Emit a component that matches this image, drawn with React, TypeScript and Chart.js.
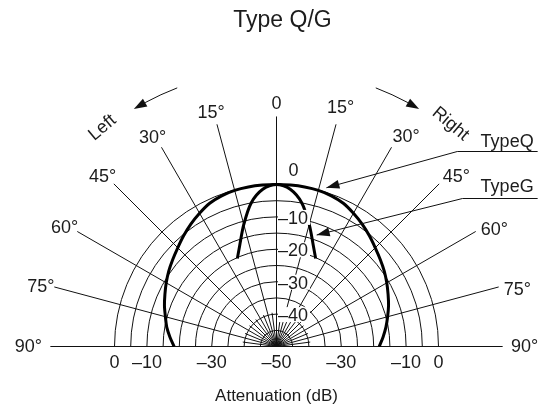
import React, { useEffect, useRef } from "react";
import { Chart, registerables } from "chart.js";

Chart.register(...registerables);

// ---------- data ----------
const TITLE = "Type Q/G";
const AXIS_TITLE = "Attenuation (dB)";
const DB_MIN = -50;
const RING_DB = [0, -5, -10, -15, -20, -25, -30, -35, -40, -45];
const MAIN_SPOKES = [-90, -75, -60, -45, -30, -15, 0, 15, 30, 45, 60, 75, 90];
const MAIN_LABELS = ["90°", "75°", "60°", "45°", "30°", "15°", "0", "15°", "30°", "45°", "60°", "75°", "90°"];
const FINE_SPOKES = [-82.5, -67.5, -52.5, -37.5, -22.5, -7.5, 7.5, 22.5, 37.5, 52.5, 67.5, 82.5];
const RADIAL_TICKS = [0, -10, -20, -30, -40];
const RADIAL_TICK_LABELS = ["0", "–10", "–20", "–30", "–40"];
const BASE_TICKS = [0, -10, -30, -50, -30, -10, 0];
const BASE_TICK_SIDE = [-1, -1, -1, 0, 1, 1, 1];
const BASE_TICK_LABELS = ["0", "–10", "–30", "–50", "–30", "–10", "0"];

const Q_ANGLES = [-90, -85, -80, -75, -70, -65, -60, -55, -50, -45, -40, -35, -30, -25, -20, -15, -10, -5, 0, 5, 10, 15, 20, 25, 30, 35, 40, 45, 50, 55, 60, 65, 70, 75, 80, 85, 90];
const Q_DB = [-18.4, -17.0, -15.6, -14.5, -13.2, -12.0, -10.7, -9.4, -8.2, -6.9, -5.4, -3.9, -2.5, -1.2, -0.5, -0.1, 0, 0, 0, 0, 0, -0.1, -0.5, -1.2, -2.5, -3.9, -5.4, -6.9, -8.2, -9.4, -10.7, -12.0, -13.2, -14.5, -15.7, -17.0, -18.3];

const G_ANGLES = [-24, -20, -15, -10, -5, 0, 5, 10, 15, 20, 24];
const G_DB = [-20.3, -16.8, -11.0, -5.0, -1.3, 0, -1.3, -5.0, -11.0, -16.8, -20.3];

const SERIES_NAMES = ["TypeQ", "TypeG"];

// ---------- layout ----------
const W = 546;
const H = 405;
const CX = 276.5;
const CY = 346.5;
const K = 3.24; // px per dB
const SPOKE_LEN = 71;
const BASE_LEN = 69.8;
const FINE_LEN = 10.5;
const FONT = '"Liberation Sans", Arial, Helvetica, sans-serif';
const INK = "#111";
const TEXT = "#1c1c1c";

function toXY(db: number, deg: number) {
  const r = db - DB_MIN;
  const t = (deg * Math.PI) / 180;
  return { x: r * Math.sin(t), y: r * Math.cos(t) };
}

function arrowHead(ctx: CanvasRenderingContext2D, x: number, y: number, ang: number, len = 13, half = 4.5) {
  ctx.save();
  ctx.translate(x, y);
  ctx.rotate(ang);
  ctx.beginPath();
  ctx.moveTo(0, 0);
  ctx.lineTo(-len, -half);
  ctx.lineTo(-len, half);
  ctx.closePath();
  ctx.fill();
  ctx.restore();
}

const decor = {
  id: "polarDecor",
  beforeDatasetsDraw(chart: any) {
    const { ctx } = chart;
    const xs = chart.scales.x;
    const ys = chart.scales.y;
    const P = (r: number, deg: number) => {
      const t = (deg * Math.PI) / 180;
      return [xs.getPixelForValue(r * Math.sin(t)), ys.getPixelForValue(r * Math.cos(t))];
    };
    const [cx, cy] = P(0, 0);
    const unit = xs.getPixelForValue(1) - xs.getPixelForValue(0);
    ctx.save();
    ctx.strokeStyle = INK;
    ctx.lineWidth = 1;
    for (const db of RING_DB) {
      ctx.beginPath();
      ctx.arc(cx, cy, (db - DB_MIN) * unit, Math.PI, 2 * Math.PI);
      ctx.stroke();
    }
    for (const a of MAIN_SPOKES) {
      const [x, y] = P(Math.abs(a) === 90 ? BASE_LEN : SPOKE_LEN, a);
      ctx.beginPath();
      ctx.moveTo(cx, cy);
      ctx.lineTo(x, y);
      ctx.stroke();
    }
    for (const a of FINE_SPOKES) {
      const [x, y] = P(FINE_LEN, a);
      ctx.beginPath();
      ctx.moveTo(cx, cy);
      ctx.lineTo(x, y);
      ctx.stroke();
    }
    ctx.restore();
  },
  afterDatasetsDraw(chart: any) {
    const { ctx } = chart;
    const xs = chart.scales.x;
    const ys = chart.scales.y;
    const P = (r: number, deg: number) => {
      const t = (deg * Math.PI) / 180;
      return [xs.getPixelForValue(r * Math.sin(t)), ys.getPixelForValue(r * Math.cos(t))];
    };
    const U = (ux: number, uy: number) => [xs.getPixelForValue(ux), ys.getPixelForValue(uy)];
    const [cx, cy] = P(0, 0);
    const unit = xs.getPixelForValue(1) - xs.getPixelForValue(0);
    ctx.save();
    ctx.fillStyle = TEXT;
    ctx.strokeStyle = INK;
    ctx.lineWidth = 1;

    // title
    ctx.font = `23px ${FONT}`;
    ctx.textAlign = "center";
    ctx.textBaseline = "middle";
    ctx.fillText(TITLE, cx + 6, 21);

    // angle labels
    ctx.font = `18px ${FONT}`;
    MAIN_SPOKES.forEach((a, i) => {
      let r = 75.1;
      let ang = a;
      if (a > 0 && a < 90) {
        r = 76.4;
        ang = a + (a > 15 ? 1.6 : 0);
      } else if (a < 0 && a > -90) {
        ang = a - 0.6;
      } else if (Math.abs(a) === 90) {
        r = 76.6;
      }
      const [x, y] = P(r, ang);
      ctx.fillText(MAIN_LABELS[i], x, y + 1);
    });

    // radial dB labels along 0° axis
    RADIAL_TICKS.forEach((db, i) => {
      const ry = cy - (db - DB_MIN) * unit;
      if (db === 0) {
        ctx.textAlign = "center";
        ctx.fillText(RADIAL_TICK_LABELS[i], cx + 17, ry - 13);
      } else {
        ctx.textAlign = "left";
        const w = ctx.measureText(RADIAL_TICK_LABELS[i]).width;
        ctx.fillStyle = "#fff";
        ctx.fillRect(cx + 1.5, ry - 7, w + 2, 15);
        ctx.fillStyle = TEXT;
        ctx.fillText(RADIAL_TICK_LABELS[i], cx + 1.5, ry + 2);
      }
    });

    // baseline dB labels
    ctx.textAlign = "center";
    BASE_TICKS.forEach((db, i) => {
      const x = cx + BASE_TICK_SIDE[i] * (db - DB_MIN) * unit;
      ctx.fillText(BASE_TICK_LABELS[i], x, cy + 17);
    });

    // axis title
    ctx.font = `17px ${FONT}`;
    ctx.fillText(AXIS_TITLE, cx, 396);

    // Left / Right curved arrows
    const R = 85.5 * unit;
    const toPhi = (deg: number) => ((deg - 90) * Math.PI) / 180;
    const headLen = 13;
    const dPhi = headLen / R;
    ctx.fillStyle = INK;
    ctx.beginPath();
    ctx.arc(cx, cy, R, toPhi(-21), toPhi(-31) + dPhi, true);
    ctx.stroke();
    {
      const phi = toPhi(-31);
      arrowHead(ctx, cx + R * Math.cos(phi), cy + R * Math.sin(phi), phi - Math.PI / 2 + dPhi / 2, headLen);
    }
    ctx.beginPath();
    ctx.arc(cx, cy, R, toPhi(21), toPhi(31) - dPhi, false);
    ctx.stroke();
    {
      const phi = toPhi(31);
      arrowHead(ctx, cx + R * Math.cos(phi), cy + R * Math.sin(phi), phi + Math.PI / 2 - dPhi / 2, headLen);
    }
    ctx.fillStyle = TEXT;
    ctx.font = `18px ${FONT}`;
    ctx.textAlign = "center";
    ctx.textBaseline = "middle";
    {
      const [x, y] = P(86.3, -38.5);
      ctx.save();
      ctx.translate(x, y);
      ctx.rotate((-40 * Math.PI) / 180);
      ctx.fillText("Left", 0, 0);
      ctx.restore();
    }
    {
      const [x, y] = P(87.2, 38);
      ctx.save();
      ctx.translate(x, y);
      ctx.rotate((40 * Math.PI) / 180);
      ctx.fillText("Right", 0, 0);
      ctx.restore();
    }

    // series call-outs
    const callouts = [
      { name: SERIES_NAMES[0], ux0: 55.8, ux1: 80.6, uy: 60.3, tip: [15.4, 49.0], ty: 63.0 },
      { name: SERIES_NAMES[1], ux0: 57.4, ux1: 80.6, uy: 45.9, tip: [12.4, 34.4], ty: 49.2 },
    ];
    ctx.textAlign = "left";
    for (const c of callouts) {
      const [x0, y0] = U(c.ux0, c.uy);
      const [x1] = U(c.ux1, c.uy);
      const [tx, ty] = U(c.tip[0], c.tip[1]);
      const yy = Math.round(y0) + 0.5;
      ctx.beginPath();
      ctx.moveTo(x1, yy);
      ctx.lineTo(x0, yy);
      ctx.lineTo(tx, ty);
      ctx.stroke();
      ctx.fillStyle = INK;
      arrowHead(ctx, tx, ty, Math.atan2(ty - yy, tx - x0), 13, 4.5);
      ctx.fillStyle = TEXT;
      const [lx, ly] = U(63.0, c.ty);
      ctx.fillText(c.name, lx, ly);
    }
    ctx.restore();
  },
};

export default function App() {
  const ref = useRef<HTMLCanvasElement | null>(null);
  useEffect(() => {
    if (!ref.current) return;
    const qData = Q_ANGLES.map((a, i) => toXY(Q_DB[i], a));
    const gData = G_ANGLES.map((a, i) => toXY(G_DB[i], a));
    const chart = new Chart(ref.current, {
      type: "scatter",
      data: {
        datasets: [
          {
            label: SERIES_NAMES[0],
            data: qData,
            showLine: true,
            borderColor: "#000",
            borderWidth: 3,
            pointRadius: 0,
            tension: 0.3,
            fill: false,
          },
          {
            label: SERIES_NAMES[1],
            data: gData,
            showLine: true,
            borderColor: "#000",
            borderWidth: 3,
            pointRadius: 0,
            tension: 0.3,
            fill: false,
          },
        ],
      },
      options: {
        responsive: false,
        animation: false,
        devicePixelRatio: 1,
        layout: { padding: 0 },
        events: [],
        plugins: {
          legend: { display: false },
          title: { display: false },
          tooltip: { enabled: false },
        },
        scales: {
          x: { type: "linear", display: false, min: -CX / K, max: (W - CX) / K },
          y: { type: "linear", display: false, min: -(H - CY) / K, max: CY / K },
        },
      },
      plugins: [decor],
    });
    return () => chart.destroy();
  }, []);
  return (
    <div style={{ position: "absolute", left: 0, top: 0, width: W, height: H, background: "#fff" }}>
      <canvas ref={ref} width={W} height={H} style={{ display: "block" }} />
    </div>
  );
}
